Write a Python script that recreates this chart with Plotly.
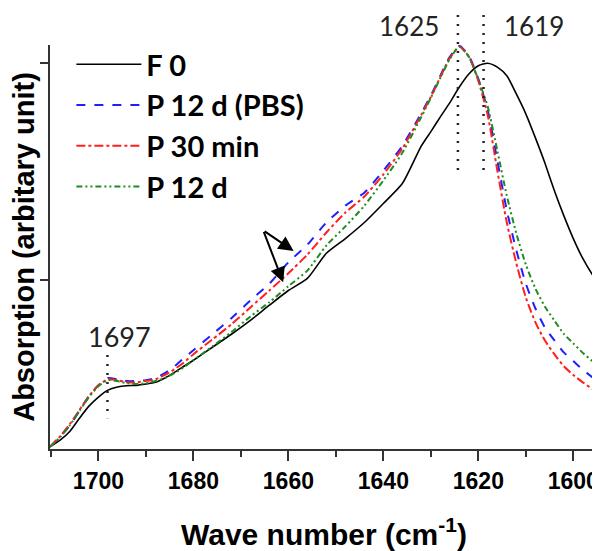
import plotly.graph_objects as go

wavenumber = [1710.2, 1708, 1706, 1704, 1702, 1700, 1698, 1696, 1694, 1692, 1690, 1688, 1686, 1684,
              1682, 1680, 1676, 1672, 1668, 1664, 1660, 1656, 1652, 1648, 1644, 1640, 1636, 1632,
              1630, 1628, 1626, 1624, 1622, 1620, 1618, 1616, 1614, 1612, 1610, 1608, 1606, 1604,
              1602, 1600, 1598, 1596, 1594.8]

f0 = [11.4, 13.0, 15.0, 18.0, 20.8, 22.9, 24.5, 25.2, 25.5, 25.6, 25.9, 26.3, 27.3, 28.6,
      30.0, 31.4, 34.4, 37.4, 40.6, 44.1, 47.5, 50.3, 56.1, 59.5, 63.2, 67.6, 72.2, 80.9,
      84.2, 87.6, 90.9, 94.5, 97.5, 99.4, 100.0, 99.1, 97.1, 92.9, 88.3, 82.8, 77.0, 70.6,
      64.8, 59.5, 54.9, 51.2, 49.4]

p12d_pbs = [11.4, 13.9, 16.4, 19.7, 23.1, 25.6, 27.3, 27.0, 26.6, 26.6, 26.8, 27.3, 28.4, 30.0,
            31.9, 33.7, 37.4, 41.1, 45.2, 49.1, 54.0, 58.1, 63.2, 67.1, 70.1, 75.2, 80.9, 88.5,
            92.5, 97.1, 101.5, 104.0, 101.7, 96.4, 89.0, 77.5, 66.0, 56.8, 49.1, 43.4, 39.0, 36.0,
            33.2, 31.2, 29.2, 27.5, 26.5]

p30min = [11.4, 13.9, 16.7, 19.9, 23.1, 25.6, 27.0, 26.8, 26.3, 26.3, 26.6, 27.0, 28.0, 29.3,
          30.9, 32.8, 36.2, 39.7, 43.6, 47.5, 51.5, 55.8, 60.9, 65.5, 69.2, 74.3, 80.3, 88.1,
          92.2, 96.8, 101.2, 103.8, 101.5, 95.9, 87.9, 75.2, 63.2, 53.8, 45.9, 40.2, 36.0, 32.8,
          30.0, 28.0, 26.3, 24.8, 24.2]

p12d = [11.4, 13.7, 16.4, 19.7, 22.9, 25.4, 26.8, 26.6, 26.1, 25.9, 26.1, 26.6, 27.3, 28.4,
        29.8, 31.4, 34.6, 37.9, 41.5, 44.8, 48.5, 52.1, 57.9, 62.3, 67.1, 72.9, 79.3, 87.6,
        92.0, 96.6, 101.0, 103.8, 101.5, 96.2, 89.9, 79.8, 69.4, 60.7, 53.5, 48.0, 43.8, 40.6,
        37.5, 35.3, 33.1, 31.2, 30.0]

series_names = ["F 0", "P 12 d (PBS)", "P 30 min", "P 12 d"]
series_values = [f0, p12d_pbs, p30min, p12d]
series_colors = ["#000000", "#1f1fff", "#ff1f1f", "#1e8c1e"]
series_dash = ["solid", "dash", "dashdot", "6px,3px,2px,3px,2px,3px"]
series_width = [1.6, 2.0, 2.0, 2.0]

peak_labels = ["1625", "1619", "1697"]
peak_positions = [1624.3, 1618.9, 1698.1]

x_ticks = [1700, 1680, 1660, 1640, 1620, 1600]

fig = go.Figure()
for name, vals, col, dash, w in zip(series_names, series_values, series_colors, series_dash, series_width):
    fig.add_trace(go.Scatter(
        x=wavenumber, y=vals, mode="lines", name=name, legendgroup=name,
        line=dict(color=col, dash=dash, width=w, shape="spline", smoothing=0.6),
    ))

# dotted marker lines
for pos in peak_positions[:2]:
    fig.add_shape(type="line", xref="x", yref="paper", x0=pos, x1=pos, y0=1.074, y1=0.69,
                  line=dict(color="#222", width=2.5, dash="2px,7px"))
fig.add_shape(type="line", xref="x", yref="y", x0=peak_positions[2], x1=peak_positions[2],
              y0=32.6, y1=18.0, line=dict(color="#222", width=2.5, dash="2px,7px"))

ann_font = dict(family="Lato", size=26, color="#222")
fig.add_annotation(text=peak_labels[0], xref="paper", yref="paper", x=(409 - 50) / 548,
                   y=(449 - 26) / 404, xanchor="center", yanchor="middle",
                   showarrow=False, font=ann_font)
fig.add_annotation(text=peak_labels[1], xref="paper", yref="paper", x=(534 - 50) / 548,
                   y=(449 - 26) / 404, xanchor="center", yanchor="middle",
                   showarrow=False, font=ann_font)
fig.add_annotation(text=peak_labels[2], xref="x", yref="y", x=1695.5, y=36.9,
                   xanchor="center", yanchor="middle", showarrow=False,
                   font=dict(family="Lato", size=27, color="#222"))

# arrows
for hx, hy in [(1658.9, 56.6), (1661.1, 49.4)]:
    fig.add_annotation(x=hx, y=hy, ax=1665.3, ay=61.4, xref="x", yref="y", axref="x", ayref="y",
                       text="", showarrow=True, arrowhead=2, arrowsize=1.5, arrowwidth=2,
                       arrowcolor="#000")

# the page body adds an 8px offset, so the figure is sized/margined to compensate
fig.update_layout(
    width=592, height=543,
    margin=dict(l=42, r=2, t=37, b=102, autoexpand=False),
    plot_bgcolor="white", paper_bgcolor="white",
    showlegend=True,
    legend=dict(x=0.039, y=1.015, xanchor="left", yanchor="top",
                font=dict(family="Lato", size=29, color="#000", weight="bold"),
                bgcolor="rgba(0,0,0,0)", tracegroupgap=0, itemwidth=65),
    font=dict(family="Liberation Sans"),
)
fig.update_xaxes(
    automargin=False, ticklabeloverflow="allow",
    range=[1710.2, 1594.8], tickvals=x_ticks, ticks="outside", ticklen=10, tickwidth=1.5,
    tickcolor="#333", showline=True, linecolor="#333", linewidth=2, showgrid=False, zeroline=False,
    tickfont=dict(family="Liberation Sans", size=23, color="#000", weight="bold"),
    minor=dict(dtick=10, ticks="outside", ticklen=6, tickwidth=1.5, tickcolor="#333"),
    title=dict(text="Wave number (cm<sup>-1</sup>)", standoff=31,
               font=dict(family="Liberation Sans", size=30, color="#000", weight="bold")),
)
fig.update_yaxes(
    automargin=False,
    range=[10.9, 104.2], tickvals=[50, 100], showticklabels=False, ticks="outside", ticklen=8,
    tickwidth=1.5, tickcolor="#333", showline=True, linecolor="#333", linewidth=2,
    showgrid=False, zeroline=False,
    title=dict(text="Absorption (arbitary unit)", standoff=2,
               font=dict(family="Liberation Sans", size=29, color="#000", weight="bold")),
)

fig.write_html("out.html")
